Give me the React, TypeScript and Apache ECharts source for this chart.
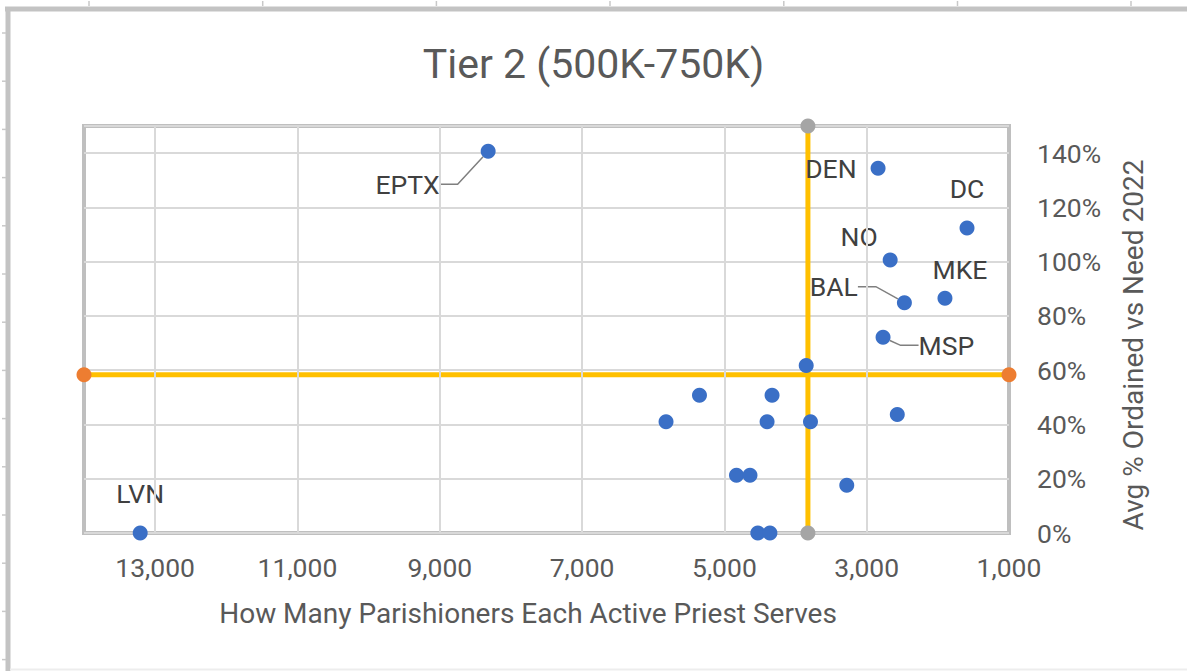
import React, { useEffect, useRef } from "react";
import * as echarts from "echarts";

// ---- Data ----
const dioceseLabels = ["LVN", "EPTX", "DEN", "DC", "NO", "BAL", "MKE", "MSP", "", "", "", "", "", "", "", "", "", "", "", ""];
const parishionersPerPriest = [13210, 8320, 2840, 1590, 2670, 2470, 1900, 2770, 3850, 5350, 4330, 5820, 4400, 3790, 2570, 4830, 4640, 3280, 4530, 4360];
const avgOrdainedVsNeed = [0, 140.7, 134.4, 112.4, 100.6, 84.9, 86.5, 72.1, 61.7, 50.8, 50.8, 41.0, 41.0, 41.0, 43.7, 21.3, 21.3, 17.6, 0, 0];

const avgParishioners = 3826; // vertical reference line
const avgOrdained = 58.3; // horizontal reference line

const xMin = 1000;
const xMax = 14000;
const yMin = 0;
const yMax = 150;
const xGridValues = [3000, 5000, 7000, 9000, 11000, 13000];

const titleText = "Tier 2 (500K-750K)";
const xAxisTitle = "How Many Parishioners Each Active Priest Serves";
const yAxisTitle = "Avg % Ordained vs Need 2022";

// label placement per named point
const labelPlacement: Record<string, any> = {
  LVN: { position: "top", distance: 19 },
  EPTX: { position: "left", distance: 5, move: [-36, 33], guide: true },
  DEN: { position: "left", distance: 14 },
  DC: { position: "top", distance: 19 },
  NO: { position: "top", distance: 5, move: [-31, 2] },
  BAL: { position: "left", distance: 5, move: [-34, -16], guide: true },
  MKE: { position: "top", distance: 5, move: [15, -3] },
  MSP: { position: "right", distance: 5, move: [23, 8], guide: true },
};

const FONT = "Roboto";

export default function App() {
  const ref = useRef<HTMLDivElement>(null);

  useEffect(() => {
    if (!ref.current) return;
    const chart = echarts.init(ref.current, undefined, { renderer: "svg" });

    const scatterData = parishionersPerPriest.map((x, i) => {
      const name = dioceseLabels[i];
      const p = labelPlacement[name];
      const item: any = { value: [x, avgOrdainedVsNeed[i]], name };
      if (p) {
        item.label = {
          show: true,
          position: p.position,
          distance: p.distance,
          formatter: name,
        };
        if (p.guide) {
          item.labelLine = { show: true };
        }
      }
      return item;
    });

    const topTicks = [89, 262.7, 436.4, 610, 783.8, 957.5, 1131];
    const leftTicks: number[] = [];
    for (let k = 0; k <= 13; k++) leftTicks.push(33 + 48.2 * k);

    const frame: any[] = [
      { type: "line", shape: { x1: 5, y1: 9, x2: 1187, y2: 9 }, style: { stroke: "#c3c3c3", lineWidth: 5 }, silent: true },
      { type: "line", shape: { x1: 8, y1: 7, x2: 8, y2: 671 }, style: { stroke: "#c3c3c3", lineWidth: 5 }, silent: true },
      { type: "line", shape: { x1: 10, y1: 669.5, x2: 1187, y2: 669.5 }, style: { stroke: "#ededed", lineWidth: 2 }, silent: true },
      ...topTicks.map((x) => ({ type: "line", shape: { x1: x, y1: 1, x2: x, y2: 6 }, style: { stroke: "#c8c8c8", lineWidth: 1.5 }, silent: true })),
      ...leftTicks.map((y) => ({ type: "line", shape: { x1: 2, y1: y, x2: 6, y2: y }, style: { stroke: "#c8c8c8", lineWidth: 1.5 }, silent: true })),
    ];

    chart.setOption({
      animation: false,
      backgroundColor: "#ffffff",
      textStyle: { fontFamily: FONT },
      title: {
        text: titleText,
        left: "center",
        top: 43,
        padding: [0, 0, 0, 12],
        textStyle: { fontFamily: FONT, fontSize: 41, fontWeight: "normal", color: "#595959" },
      },
      grid: {
        left: 84,
        right: 178,
        top: 126,
        bottom: 138,
        show: true,
        borderColor: "#bfbfbf",
        borderWidth: 4,
        backgroundColor: "transparent",
      },
      xAxis: {
        type: "value",
        inverse: true,
        min: xMin,
        max: xMax,
        interval: 1000,
        name: xAxisTitle,
        nameLocation: "middle",
        nameGap: 66,
        nameTextStyle: { fontFamily: FONT, fontSize: 28, color: "#595959", padding: [0, 37, 0, 0] },
        axisLine: { show: false },
        axisTick: { show: false },
        splitLine: { show: false },
        axisLabel: {
          margin: 21,
          fontFamily: FONT,
          fontSize: 26.5,
          color: "#595959",
          showMaxLabel: false,
          formatter: (v: number) => (Math.round(v) % 2000 === 1000 ? v.toLocaleString("en-US") : ""),
        },
      },
      yAxis: {
        type: "value",
        position: "right",
        min: yMin,
        max: yMax,
        interval: 20,
        name: yAxisTitle,
        nameLocation: "middle",
        nameRotate: 90,
        nameGap: 110,
        nameTextStyle: { fontFamily: FONT, fontSize: 28, color: "#595959", padding: [0, 31, 0, 0] },
        axisLine: { show: false },
        axisTick: { show: false },
        splitLine: { show: true, lineStyle: { color: "#d9d9d9", width: 2 } },
        axisLabel: {
          margin: 28,
          fontFamily: FONT,
          fontSize: 26.5,
          color: "#595959",
          showMaxLabel: false,
          formatter: (v: number) => (v > 140 ? "" : v + "%"),
        },
      },
      graphic: frame,
      series: [
        {
          type: "scatter",
          name: "grid",
          data: [],
          z: 1,
          silent: true,
          markLine: {
            silent: true,
            symbol: "none",
            label: { show: false },
            lineStyle: { color: "#d9d9d9", width: 2, type: "solid" },
            data: xGridValues.map((v) => ({ xAxis: v })),
          },
        },
        {
          type: "line",
          name: "avgX",
          data: [
            [avgParishioners, yMin],
            [avgParishioners, yMax],
          ],
          z: 3,
          clip: false,
          symbol: "circle",
          symbolSize: 15,
          showAllSymbol: true,
          itemStyle: { color: "#a5a5a5", opacity: 1 },
          lineStyle: { color: "#ffc000", width: 5 },
        },
        {
          type: "line",
          name: "avgY",
          data: [
            [xMax, avgOrdained],
            [xMin, avgOrdained],
          ],
          z: 3,
          clip: false,
          symbol: "circle",
          symbolSize: 15,
          showAllSymbol: true,
          itemStyle: { color: "#ed7d31", opacity: 1 },
          lineStyle: { color: "#ffc000", width: 5 },
        },
        {
          type: "scatter",
          name: "dioceses",
          z: 4,
          clip: false,
          symbol: "circle",
          symbolSize: 15,
          itemStyle: { color: "#3a6fc6", opacity: 1 },
          label: {
            show: false,
            fontFamily: FONT,
            fontSize: 26.5,
            color: "#404040",
          },
          labelLine: {
            show: false,
            length2: 18,
            lineStyle: { color: "#7f7f7f", width: 1.5 },
          },
          labelLayout: (params: any) => {
            const name = dioceseLabels[params.dataIndex];
            const p = labelPlacement[name];
            if (p && p.move) return { dx: p.move[0], dy: p.move[1] };
            return {};
          },
          data: scatterData,
        },
      ],
    });

    return () => chart.dispose();
  }, []);

  return (
    <div
      ref={ref}
      style={{ position: "fixed", left: 0, top: 0, width: 1187, height: 671, background: "#fff" }}
    />
  );
}
